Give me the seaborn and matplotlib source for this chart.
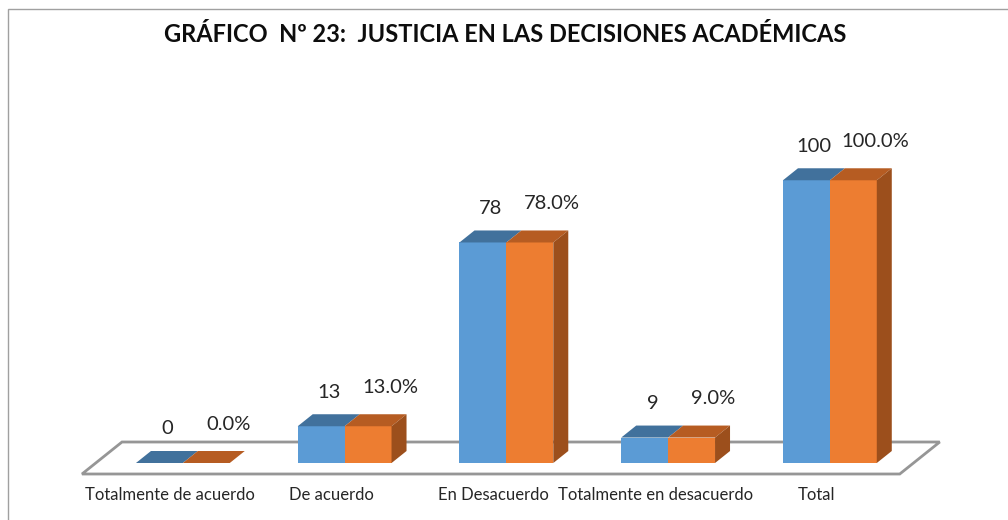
import pandas as pd
import matplotlib
matplotlib.use("Agg")
import matplotlib.pyplot as plt
import matplotlib.transforms as mtransforms
from matplotlib.patches import Polygon, Rectangle
import seaborn as sns

# datos del gráfico
categorias = ["Totalmente de acuerdo", "De acuerdo", "En Desacuerdo",
              "Totalmente en desacuerdo", "Total"]
conteo = [0, 13, 78, 9, 100]
porcentaje = [0.0, 13.0, 78.0, 9.0, 100.0]
series = ["N°", "%"]

df = pd.DataFrame({
    "categoria": categorias * 2,
    "serie": [series[0]] * len(categorias) + [series[1]] * len(categorias),
    "valor": conteo + porcentaje,
})

sns.set_style("white")
plt.rcParams["font.family"] = ["Lato", "DejaVu Sans"]

front = {"N°": "#5B9BD5", "%": "#ED7D31"}
top = {"N°": "#41719C", "%": "#B65C22"}
side = {"N°": "#41719C", "%": "#9C4F1C"}

fig = plt.figure(figsize=(10.08, 5.2), dpi=100)
ax = fig.add_axes([102 / 1008, 57 / 520, 808.75 / 1008, 311 / 520])

sns.barplot(data=df, x="categoria", y="valor", hue="serie", palette=front,
            saturation=1, width=0.58, ax=ax, legend=False, zorder=3, linewidth=0)
ax.set_xlim(-0.5, 4.5)
ax.set_ylim(0, 110)

# conversión de píxeles a unidades de datos
ux = 5 / 808.75
uy = 110 / 311
dx, dy = 15 * ux, 12 * uy

# piso en perspectiva
fx0, fx1 = -0.5 - 20 * ux, 4.5 - 11 * ux
fy = -11 * uy
fdx, fdy = 40 * ux, 32 * uy
piso = Polygon([(fx0, fy), (fx1, fy), (fx1 + fdx, fy + fdy), (fx0 + fdx, fy + fdy)],
               closed=True, facecolor="white", edgecolor="#969696", lw=2,
               clip_on=False, zorder=1)
ax.add_patch(piso)

# caras superior y lateral de las barras
for cont, s in zip(ax.containers, series):
    for p in cont.patches:
        x0, w, h = p.get_x(), p.get_width(), p.get_height()
        ax.add_patch(Polygon([(x0, h), (x0 + w, h), (x0 + w + dx, h + dy), (x0 + dx, h + dy)],
                             closed=True, facecolor=top[s], lw=0, clip_on=False, zorder=4))
        if s == "%":
            ax.add_patch(Polygon([(x0 + w, 0), (x0 + w, h), (x0 + w + dx, h + dy), (x0 + w + dx, dy)],
                                 closed=True, facecolor=side[s], lw=0, clip_on=False, zorder=4))

# etiquetas de datos
for p, v in zip(ax.containers[0].patches, conteo):
    ax.text(p.get_x() + p.get_width() / 2 + 8 * ux, p.get_height() + 34 * uy, f"{v}",
            ha="center", va="center", fontsize=14.5, color="#262626", clip_on=False)
for p, v in zip(ax.containers[1].patches, porcentaje):
    ax.text(p.get_x() + p.get_width() / 2 + 22 * ux, p.get_height() + 39 * uy, f"{v:.1f}%",
            ha="center", va="center", fontsize=14.5, color="#262626", clip_on=False)

ax.set_xlabel("")
ax.set_ylabel("")
ax.set_yticks([])
ax.tick_params(axis="x", length=0, pad=17, labelsize=12, labelcolor="#262626")
off = mtransforms.ScaledTranslation(-0.13, 0, fig.dpi_scale_trans)
for lab in ax.get_xticklabels():
    lab.set_transform(lab.get_transform() + off)
sns.despine(ax=ax, left=True, bottom=True)

fig.text(505 / 1008, 1 - 35 / 520, "GRÁFICO  Nº 23:  JUSTICIA EN LAS DECISIONES ACADÉMICAS",
         ha="center", va="center", fontsize=17, fontweight="bold", color="#0D0D0D")

# marco del gráfico
fig.add_artist(Rectangle((8 / 1008, -0.1), 1.2, 0.1 + 511 / 520, transform=fig.transFigure,
                         fill=False, edgecolor="#A0A0A0", lw=1))

fig.savefig("out.png", dpi=100)
